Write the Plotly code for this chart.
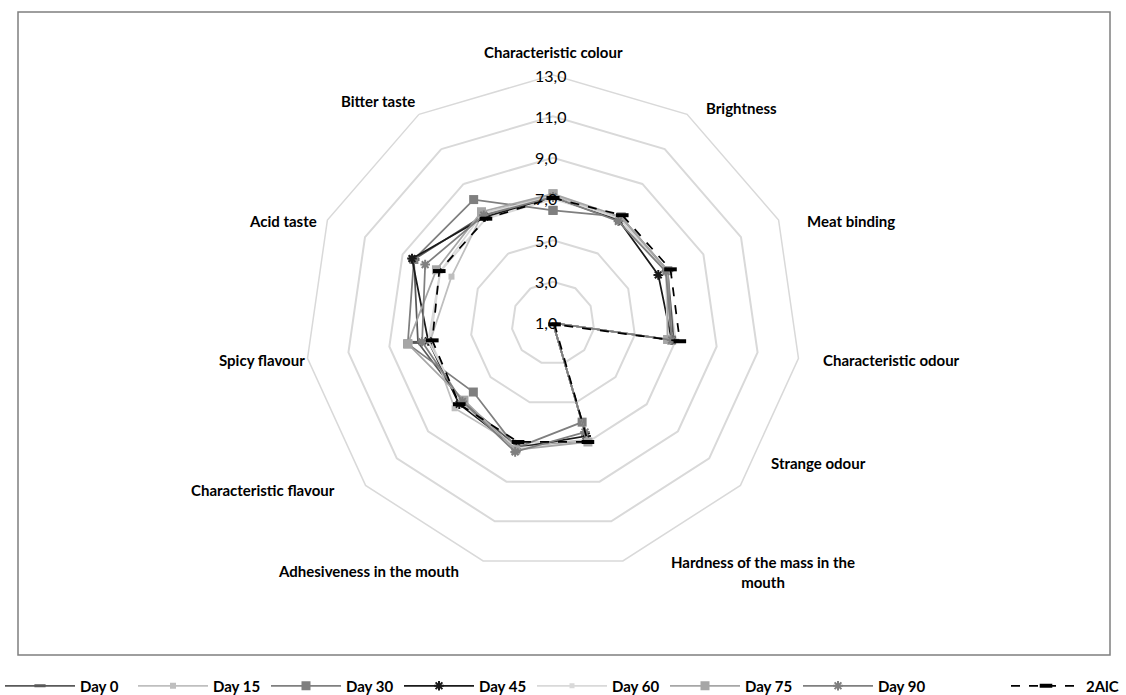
import plotly.graph_objects as go

categories = ["Characteristic colour", "Brightness", "Meat binding", "Characteristic odour",
              "Strange odour", "Hardness of the mass in the<br>mouth", "Adhesiveness in the mouth",
              "Characteristic flavour", "Spicy flavour", "Acid taste", "Bitter taste"]

day0 = [7.1, 7.0, 7.1, 6.9, 1.0, 7.0, 7.2, 6.8, 7.6, 8.4, 7.2]
day15 = [7.2, 7.0, 7.1, 6.8, 1.0, 6.9, 7.2, 7.3, 7.0, 6.4, 7.3]
day30 = [6.45, 7.1, 7.1, 6.8, 1.0, 6.0, 7.3, 6.1, 8.1, 8.4, 8.1]
day45 = [7.1, 6.9, 6.6, 6.8, 1.0, 6.7, 7.3, 7.0, 7.1, 8.5, 7.1]
day60 = [7.1, 7.0, 7.0, 6.6, 1.0, 7.0, 7.3, 6.9, 7.1, 7.0, 7.3]
day75 = [7.25, 7.1, 7.1, 6.6, 1.0, 7.0, 7.4, 6.7, 8.1, 7.2, 7.4]
day90 = [7.1, 6.85, 7.0, 6.8, 1.0, 6.5, 7.5, 6.8, 7.4, 7.8, 7.2]
alc2 = [7.05, 7.2, 7.25, 7.2, 1.1, 7.0, 7.0, 7.0, 6.9, 7.05, 7.0]

series_names = ["Day 0", "Day 15", "Day 30", "Day 45", "Day 60", "Day 75", "Day 90", "2AlC"]
series_values = [day0, day15, day30, day45, day60, day75, day90, alc2]

radial_ticks = [1, 3, 5, 7, 9, 11, 13]
radial_ticktext = ["1,0", "3,0", "5,0", "7,0", "9,0", "11,0", "13,0"]

styles = [
    dict(color="#595959", dash="solid", symbol="line-ew-open", size=8, mlw=3, legend="legend"),
    dict(color="#bfbfbf", dash="solid", symbol="square", size=6, mlw=0, legend="legend"),
    dict(color="#7f7f7f", dash="solid", symbol="square", size=9, mlw=0, legend="legend"),
    dict(color="#1a1a1a", dash="solid", symbol="asterisk-open", size=8, mlw=2, legend="legend"),
    dict(color="#d9d9d9", dash="solid", symbol="square", size=5, mlw=0, legend="legend"),
    dict(color="#a6a6a6", dash="solid", symbol="square", size=9, mlw=0, legend="legend"),
    dict(color="#7f7f7f", dash="solid", symbol="asterisk-open", size=8, mlw=2, legend="legend"),
    dict(color="#000000", dash="dash", symbol="line-ew-open", size=9, mlw=4, legend="legend2"),
]

# label placement (pixel centers) for the category labels, in category order
label_pos = [(553, 52), (741, 108), (851, 221), (891, 360), (818, 463), (763, 572),
             (368, 571), (263, 490), (262, 360), (283, 221), (378, 101)]

fig = go.Figure()
for name, vals, st in zip(series_names, series_values, styles):
    r = list(vals) + [vals[0]]
    theta = categories + [categories[0]]
    if st["mlw"] > 0 and "open" in st["symbol"]:
        marker = dict(symbol=st["symbol"], size=st["size"], line=dict(color=st["color"], width=st["mlw"]))
    else:
        marker = dict(symbol=st["symbol"], size=st["size"], color=st["color"])
    fig.add_trace(go.Scatterpolar(
        r=r, theta=theta, name=name, mode="lines+markers",
        line=dict(color=st["color"], width=1.75, dash=st["dash"]),
        marker=marker, legend=st["legend"],
    ))

W, H = 1126, 695
cx, cy, R = 553, 323, 248
rmin, rmax = radial_ticks[0], radial_ticks[-1]
annotations = []
for cat, (px, py) in zip(categories, label_pos):
    annotations.append(dict(
        text=cat, x=px / W, y=(H - py) / H, xref="paper", yref="paper",
        showarrow=False, xanchor="center", yanchor="middle", align="center",
        font=dict(size=15, family="Lato, sans-serif", color="#000000", weight="bold"),
    ))
# radial tick labels, left-aligned just left of the axis (Excel style)
for v, t in zip(radial_ticks, radial_ticktext):
    py = cy - (v - rmin) / (rmax - rmin) * R
    annotations.append(dict(
        text=t, x=533 / W, y=(H - py) / H, xref="paper", yref="paper",
        showarrow=False, xanchor="left", yanchor="middle",
        font=dict(size=16, family="Lato, sans-serif", color="#000000"),
    ))

legend_font = dict(size=15, family="Lato, sans-serif", weight="bold", color="#000000")
fig.update_layout(
    width=W, height=H,
    margin=dict(l=0, r=0, t=0, b=0, autoexpand=False),
    paper_bgcolor="white", plot_bgcolor="white",
    font=dict(family="Lato, Calibri, sans-serif", color="#000000"),
    polar=dict(
        domain=dict(x=[(cx - R) / W, (cx + R) / W], y=[(H - cy - R) / H, (H - cy + R) / H]),
        bgcolor="white",
        gridshape="linear",
        radialaxis=dict(
            range=[rmin, rmax], tickvals=radial_ticks, ticktext=radial_ticktext,
            angle=90, showticklabels=False, showline=False, ticks="",
            gridcolor="#d9d9d9", gridwidth=1.5,
        ),
        angularaxis=dict(
            rotation=90, direction="clockwise", showgrid=False,
            showline=True, linecolor="#d9d9d9", linewidth=1.5,
            ticks="", showticklabels=False,
        ),
    ),
    annotations=annotations,
    legend=dict(
        orientation="h", x=0, xanchor="left", y=(H - 686) / H, yanchor="middle",
        font=legend_font, itemwidth=70, entrywidth=48, tracegroupgap=0,
        bgcolor="rgba(0,0,0,0)",
    ),
    legend2=dict(
        orientation="h", x=1006 / W, xanchor="left", y=(H - 686) / H, yanchor="middle",
        font=legend_font, itemwidth=70, tracegroupgap=0,
        bgcolor="rgba(0,0,0,0)",
    ),
    shapes=[dict(type="rect", xref="paper", yref="paper",
                 x0=18 / W, x1=1110 / W, y0=(H - 655) / H, y1=(H - 12) / H,
                 line=dict(color="#7f7f7f", width=1.5), fillcolor="rgba(0,0,0,0)")],
)

fig.write_html("out.html", config={"displayModeBar": False},
               post_script="document.body.style.margin='0';document.body.style.overflow='hidden';")
